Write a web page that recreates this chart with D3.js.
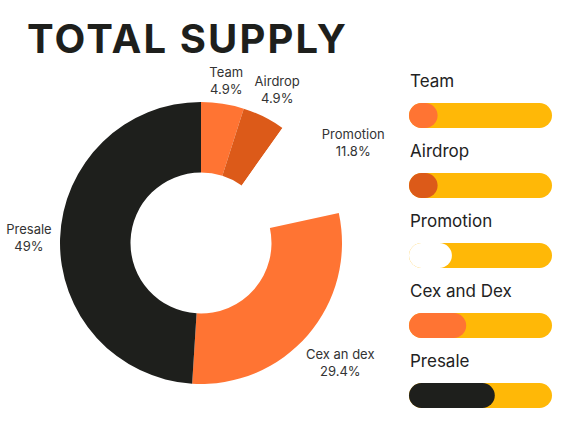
<!DOCTYPE html>
<html><head><meta charset="utf-8">
<script src="https://cdn.jsdelivr.net/npm/d3@7"></script>
<style>
html,body{margin:0;padding:0;background:#fff;}
svg{display:block;font-family:Inter, "Noto Sans", sans-serif;}
</style></head>
<body>
<svg id="chart" width="577" height="433"></svg>
<script>
const title = "TOTAL SUPPLY";
const categories = ["Team", "Airdrop", "Promotion", "Cex and Dex", "Presale"];
const pieLabels = ["Team", "Airdrop", "Promotion", "Cex an dex", "Presale"];
const values = [4.9, 4.9, 11.8, 29.4, 49];
const colors = ["#FF7433", "#DC5A19", "#FFFFFF", "#FF7433", "#1E1F1C"];
const legendFill = [20, 20, 30, 40, 60];   // percent of track filled
const trackColor = "#FFB807";

const svg = d3.select("#chart");

// Title
svg.append("text")
  .attr("x", 27).attr("y", 53)
  .attr("font-size", 40).attr("font-weight", 700)
  .attr("fill", "#1E1F1C")
  .attr("textLength", 319).attr("lengthAdjust", "spacing")
  .text(title);

// Donut
const cx = 201, cy = 243, rOuter = 141, rInner = 70.5, rLabel = 149;
const g = svg.append("g").attr("transform", `translate(${cx},${cy})`);
const pie = d3.pie().sort(null).value(d => d)(values);
const arc = d3.arc().innerRadius(rInner).outerRadius(rOuter);

g.selectAll("path.slice").data(pie).join("path")
  .attr("class", "slice")
  .attr("d", arc)
  .attr("fill", (d, i) => colors[i]);

// Labels: visual text box placed with its nearest edge at rLabel
const fs = 13, lineGap = 17, capH = 9.5;
pie.forEach((d, i) => {
  const a = (d.startAngle + d.endAngle) / 2;
  const t = g.append("text")
    .attr("font-size", fs).attr("fill", "#333")
    .attr("text-anchor", "middle");
  t.append("tspan").attr("x", 0).attr("y", 0).text(pieLabels[i]);
  t.append("tspan").attr("x", 0).attr("y", lineGap).text(d3.format("~g")(values[i]) + "%");
  const bb = t.node().getBBox();
  const hw = bb.width / 2;
  const hh = (lineGap + capH) / 2;
  const vcy = (lineGap - capH) / 2;
  const s = Math.sin(a), c = -Math.cos(a);
  const off = rLabel + hw * Math.abs(s) + hh * Math.abs(c);
  const px = off * s, py = off * c;
  t.attr("transform", `translate(${px},${py - vcy})`);
});

// Legend
const lx = 409, trackW = 143, barH = 25;
const yBand = d3.scalePoint().domain(categories).range([103, 383]);
const xFill = d3.scaleLinear().domain([0, 100]).range([0, trackW]);
const lg = svg.append("g");
categories.forEach((cat, i) => {
  const y = yBand(cat);
  lg.append("text")
    .attr("x", lx + 1).attr("y", y - 16)
    .attr("font-size", 17).attr("fill", "#222")
    .text(cat);
  lg.append("rect")
    .attr("x", lx).attr("y", y)
    .attr("width", trackW).attr("height", barH)
    .attr("rx", barH / 2)
    .attr("fill", trackColor);
  lg.append("rect")
    .attr("x", lx).attr("y", y)
    .attr("width", xFill(legendFill[i])).attr("height", barH)
    .attr("rx", barH / 2)
    .attr("fill", colors[i]);
});
</script>
</body></html>
